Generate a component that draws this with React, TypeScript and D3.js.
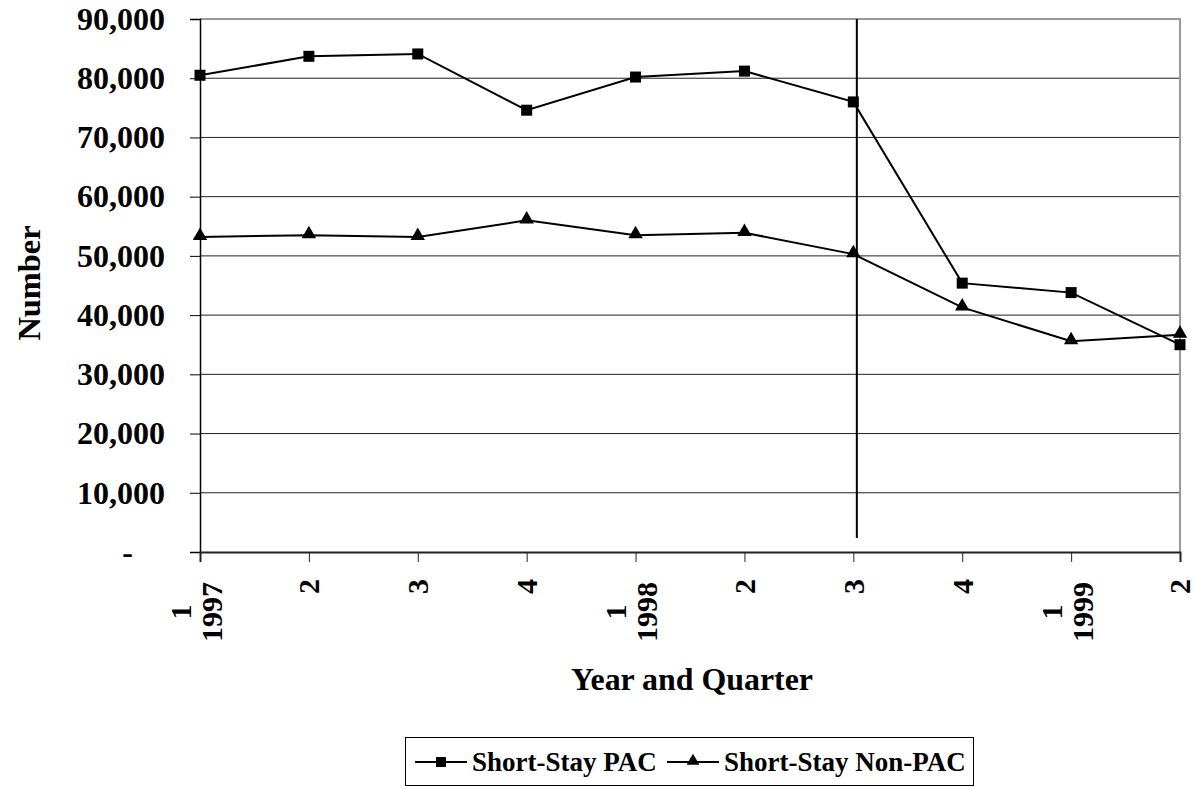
import React, { useEffect, useRef } from "react";
import * as d3 from "d3";

const quarters = ["1", "2", "3", "4", "1", "2", "3", "4", "1", "2"];
const years = ["1997", "", "", "", "1998", "", "", "", "1999", ""];
const pacValues = [80500, 83700, 84100, 74600, 80200, 81200, 76000, 45400, 43800, 35000];
const nonPacValues = [53200, 53500, 53200, 56000, 53500, 53900, 50300, 41300, 35600, 36700];
const yTicks = [0, 10000, 20000, 30000, 40000, 50000, 60000, 70000, 80000, 90000];
const seriesNames = ["Short-Stay PAC", "Short-Stay Non-PAC"];
const markerIndex = 6; // vertical reference line at 1998 Q3

const W = 1194;
const H = 789;
const FONT = "'Liberation Serif', 'Times New Roman', serif";

const App = () => {
  const svgRef = useRef(null);

  useEffect(() => {
    const svg = d3.select(svgRef.current);
    svg.selectAll("*").remove();

    const left = 200;
    const right = 1180;
    const top = 19;
    const bottom = 552;

    const x = d3.scaleLinear().domain([0, quarters.length - 1]).range([left, right]);
    const y = d3.scaleLinear().domain([0, 90000]).range([bottom, top]);

    // gridlines
    svg
      .append("g")
      .selectAll("line")
      .data(yTicks.slice(1, -1))
      .join("line")
      .attr("x1", left)
      .attr("x2", right)
      .attr("y1", (d) => y(d))
      .attr("y2", (d) => y(d))
      .attr("stroke", "#222")
      .attr("stroke-width", 1);

    // plot border (top/right gray)
    svg
      .append("path")
      .attr("d", `M${left},${y(90000)}H${right}V${bottom}`)
      .attr("fill", "none")
      .attr("stroke", "#999")
      .attr("stroke-width", 2);

    // y axis
    const yAxis = svg
      .append("g")
      .attr("transform", `translate(${left},0)`)
      .call(
        d3
          .axisLeft(y)
          .tickValues(yTicks)
          .tickSize(10)
          .tickFormat((d) => (d === 0 ? "-" : d3.format(",")(d)))
      );
    yAxis.select(".domain").attr("stroke", "#000").attr("stroke-width", 1.5);
    yAxis.selectAll(".tick line").attr("stroke", "#000");
    yAxis
      .selectAll(".tick text")
      .attr("x", (d) => (d === 0 ? -67 : -35))
      .attr("fill", "#000")
      .style("font-family", FONT)
      .style("font-weight", "bold")
      .style("font-size", "32px");

    // x axis
    const xAxis = svg
      .append("g")
      .attr("transform", `translate(0,${bottom})`)
      .call(d3.axisBottom(x).tickValues(d3.range(quarters.length)).tickSize(10).tickFormat(() => ""));
    xAxis.select(".domain").attr("stroke", "#222").attr("stroke-width", 2);
    xAxis.selectAll(".tick line").attr("stroke", "#222");

    // x tick labels (rotated)
    const label = (g, text, lx, ly, anchor) =>
      g
        .append("text")
        .attr("x", lx)
        .attr("y", ly)
        .attr("text-anchor", anchor)
        .attr("dominant-baseline", "central")
        .style("font-family", FONT)
        .style("font-weight", "bold")
        .style("font-size", "30px")
        .text(text);

    quarters.forEach((q, i) => {
      const g = svg.append("g").attr("transform", `translate(${x(i)},${bottom + 27}) rotate(-90)`);
      if (years[i]) {
        label(g, years[i], -3, 11, "end");
        label(g, q, -33, -20, "middle");
      } else {
        label(g, q, 0, i === quarters.length - 1 ? -1 : 0, "end");
      }
    });

    // vertical reference line
    svg
      .append("line")
      .attr("x1", x(markerIndex) + 3.5)
      .attr("x2", x(markerIndex) + 3.5)
      .attr("y1", top)
      .attr("y2", bottom - 14)
      .attr("stroke", "#000")
      .attr("stroke-width", 2);

    const line = d3
      .line<number>()
      .x((d, i) => x(i))
      .y((d) => y(d));

    const triangle = d3.symbol().type(d3.symbolTriangle).size(90);

    // series lines
    [pacValues, nonPacValues].forEach((vals) => {
      svg
        .append("path")
        .datum(vals)
        .attr("fill", "none")
        .attr("stroke", "#000")
        .attr("stroke-width", 2)
        .attr("d", line);
    });

    svg
      .append("g")
      .selectAll("rect")
      .data(pacValues)
      .join("rect")
      .attr("x", (d, i) => x(i) - 5.5)
      .attr("y", (d) => y(d) - 5.5)
      .attr("width", 11)
      .attr("height", 11)
      .attr("fill", "#000");

    svg
      .append("g")
      .selectAll("path")
      .data(nonPacValues)
      .join("path")
      .attr("transform", (d, i) => `translate(${x(i)},${y(d) - 1})`)
      .attr("d", triangle)
      .attr("fill", "#000");

    // axis titles
    svg
      .append("text")
      .attr("x", 692)
      .attr("y", 690)
      .attr("text-anchor", "middle")
      .attr("textLength", 242)
      .attr("lengthAdjust", "spacingAndGlyphs")
      .style("font-family", FONT)
      .style("font-weight", "bold")
      .style("font-size", "32px")
      .text("Year and Quarter");

    svg
      .append("text")
      .attr("transform", `translate(40,283) rotate(-90)`)
      .attr("text-anchor", "middle")
      .attr("textLength", 115)
      .attr("lengthAdjust", "spacingAndGlyphs")
      .style("font-family", FONT)
      .style("font-weight", "bold")
      .style("font-size", "32px")
      .text("Number");

    // legend
    const legend = svg.append("g");
    legend
      .append("rect")
      .attr("x", 405.5)
      .attr("y", 737.5)
      .attr("width", 568)
      .attr("height", 48)
      .attr("fill", "#fff")
      .attr("stroke", "#000")
      .attr("stroke-width", 1);

    const legendX = [415, 667];
    seriesNames.forEach((name, i) => {
      const lx = legendX[i];
      const cy = 762;
      legend
        .append("line")
        .attr("x1", lx)
        .attr("x2", lx + 52)
        .attr("y1", cy)
        .attr("y2", cy)
        .attr("stroke", "#000")
        .attr("stroke-width", 2);
      if (i === 0) {
        legend
          .append("rect")
          .attr("x", lx + 21)
          .attr("y", cy - 5)
          .attr("width", 10)
          .attr("height", 10)
          .attr("fill", "#000");
      } else {
        legend
          .append("path")
          .attr("transform", `translate(${lx + 26},${cy - 1})`)
          .attr("d", d3.symbol().type(d3.symbolTriangle).size(70))
          .attr("fill", "#000");
      }
      legend
        .append("text")
        .attr("x", lx + 57)
        .attr("y", cy + 9)
        .style("font-family", FONT)
        .style("font-weight", "bold")
        .style("font-size", "27px")
        .text(name);
    });
  }, []);

  return (
    <svg
      ref={svgRef}
      width={W}
      height={H}
      style={{ position: "absolute", left: 0, top: 0, background: "#fff" }}
    />
  );
};

export default App;
